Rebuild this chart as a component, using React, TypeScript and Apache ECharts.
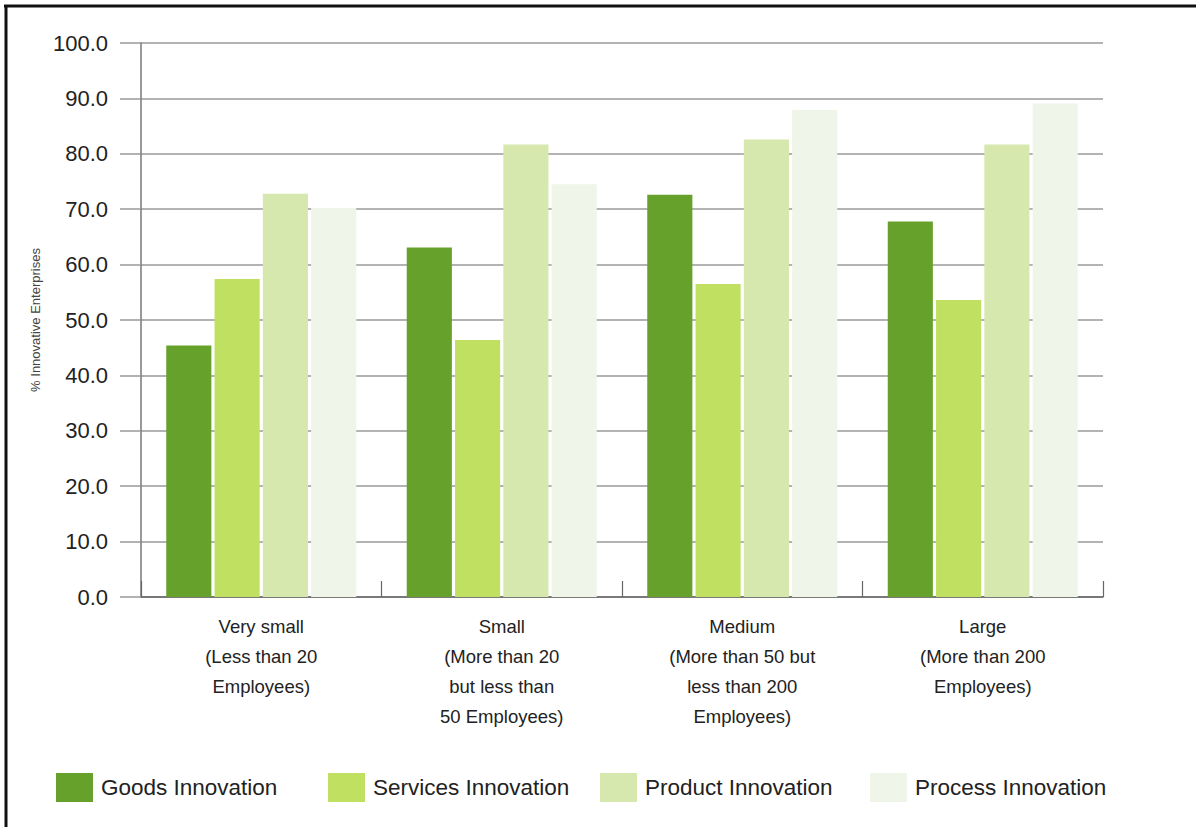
import React, { useEffect, useRef } from "react";
import * as echarts from "echarts";

const categories = [
  "Very small\n(Less than 20\nEmployees)",
  "Small\n(More than 20\nbut less than\n50 Employees)",
  "Medium\n(More than 50 but\nless than 200\nEmployees)",
  "Large\n(More than 200\nEmployees)",
];
const seriesNames = ["Goods Innovation", "Services Innovation", "Product Innovation", "Process Innovation"];
const goods = [45.4, 63.1, 72.6, 67.8];
const services = [57.4, 46.4, 56.5, 53.6];
const product = [72.8, 81.7, 82.6, 81.7];
const process = [70.2, 74.5, 87.9, 89.1];
const colors = ["#66a12b", "#c0e062", "#d6e8ad", "#f0f5e9"];
const axisName = "% Innovative Enterprises";
const legendLefts = [56, 328, 600, 870];

const FONT = "'Liberation Sans', Arial, sans-serif";

export default function App() {
  const ref = useRef<HTMLDivElement>(null);
  useEffect(() => {
    if (!ref.current) return;
    const chart = echarts.init(ref.current, undefined, { renderer: "svg" });
    const data = [goods, services, product, process];
    chart.setOption({
      animation: false,
      backgroundColor: "#ffffff",
      textStyle: { fontFamily: FONT },
      grid: { left: 141, top: 43, right: 93, bottom: 230, containLabel: false },
      legend: seriesNames.map((name, i) => ({
        left: legendLefts[i],
        top: 773,
        padding: 0,
        itemWidth: 37,
        itemHeight: 29,
        itemGap: 5,
        icon: "rect",
        data: [name],
        textStyle: { fontSize: 22.5, color: "#222", fontFamily: FONT, padding: [0, 0, 0, 3] },
      })),
      xAxis: {
        type: "category",
        data: categories,
        axisLine: { lineStyle: { color: "#666", width: 1.5 } },
        axisTick: { show: true, inside: true, length: 16, lineStyle: { color: "#666", width: 1.2 } },
        axisLabel: {
          interval: 0,
          margin: 14,
          fontSize: 18.5,
          lineHeight: 30,
          color: "#222",
          align: "center",
          fontFamily: FONT,
        },
      },
      yAxis: {
        type: "value",
        min: 0,
        max: 100,
        interval: 10,
        name: axisName,
        nameLocation: "middle",
        nameRotate: 90,
        nameGap: 98,
        nameTextStyle: { fontSize: 13, color: "#444", fontFamily: FONT },
        axisLine: { show: true, lineStyle: { color: "#777", width: 1.5 } },
        axisTick: { show: true, length: 21, lineStyle: { color: "#999", width: 1.5 } },
        axisLabel: {
          margin: 33,
          fontSize: 22,
          color: "#222",
          fontFamily: FONT,
          formatter: (v: number) => v.toFixed(1),
        },
        splitLine: { show: true, lineStyle: { color: "#9a9a9a", width: 1.5 } },
      },
      series: seriesNames.map((name, i) => ({
        name,
        type: "bar",
        data: data[i],
        barGap: "7%",
        barCategoryGap: "21%",
        itemStyle: { color: colors[i] },
      })),
      graphic: [
        { type: "line", shape: { x1: 4, y1: 6, x2: 1196, y2: 6 }, style: { stroke: "#111", lineWidth: 3 } },
        { type: "line", shape: { x1: 6, y1: 5, x2: 6, y2: 827 }, style: { stroke: "#111", lineWidth: 3 } },
      ],
    });
    return () => chart.dispose();
  }, []);
  return (
    <div
      ref={ref}
      style={{ position: "fixed", left: 0, top: 0, width: 1196, height: 827, background: "#fff" }}
    />
  );
}
